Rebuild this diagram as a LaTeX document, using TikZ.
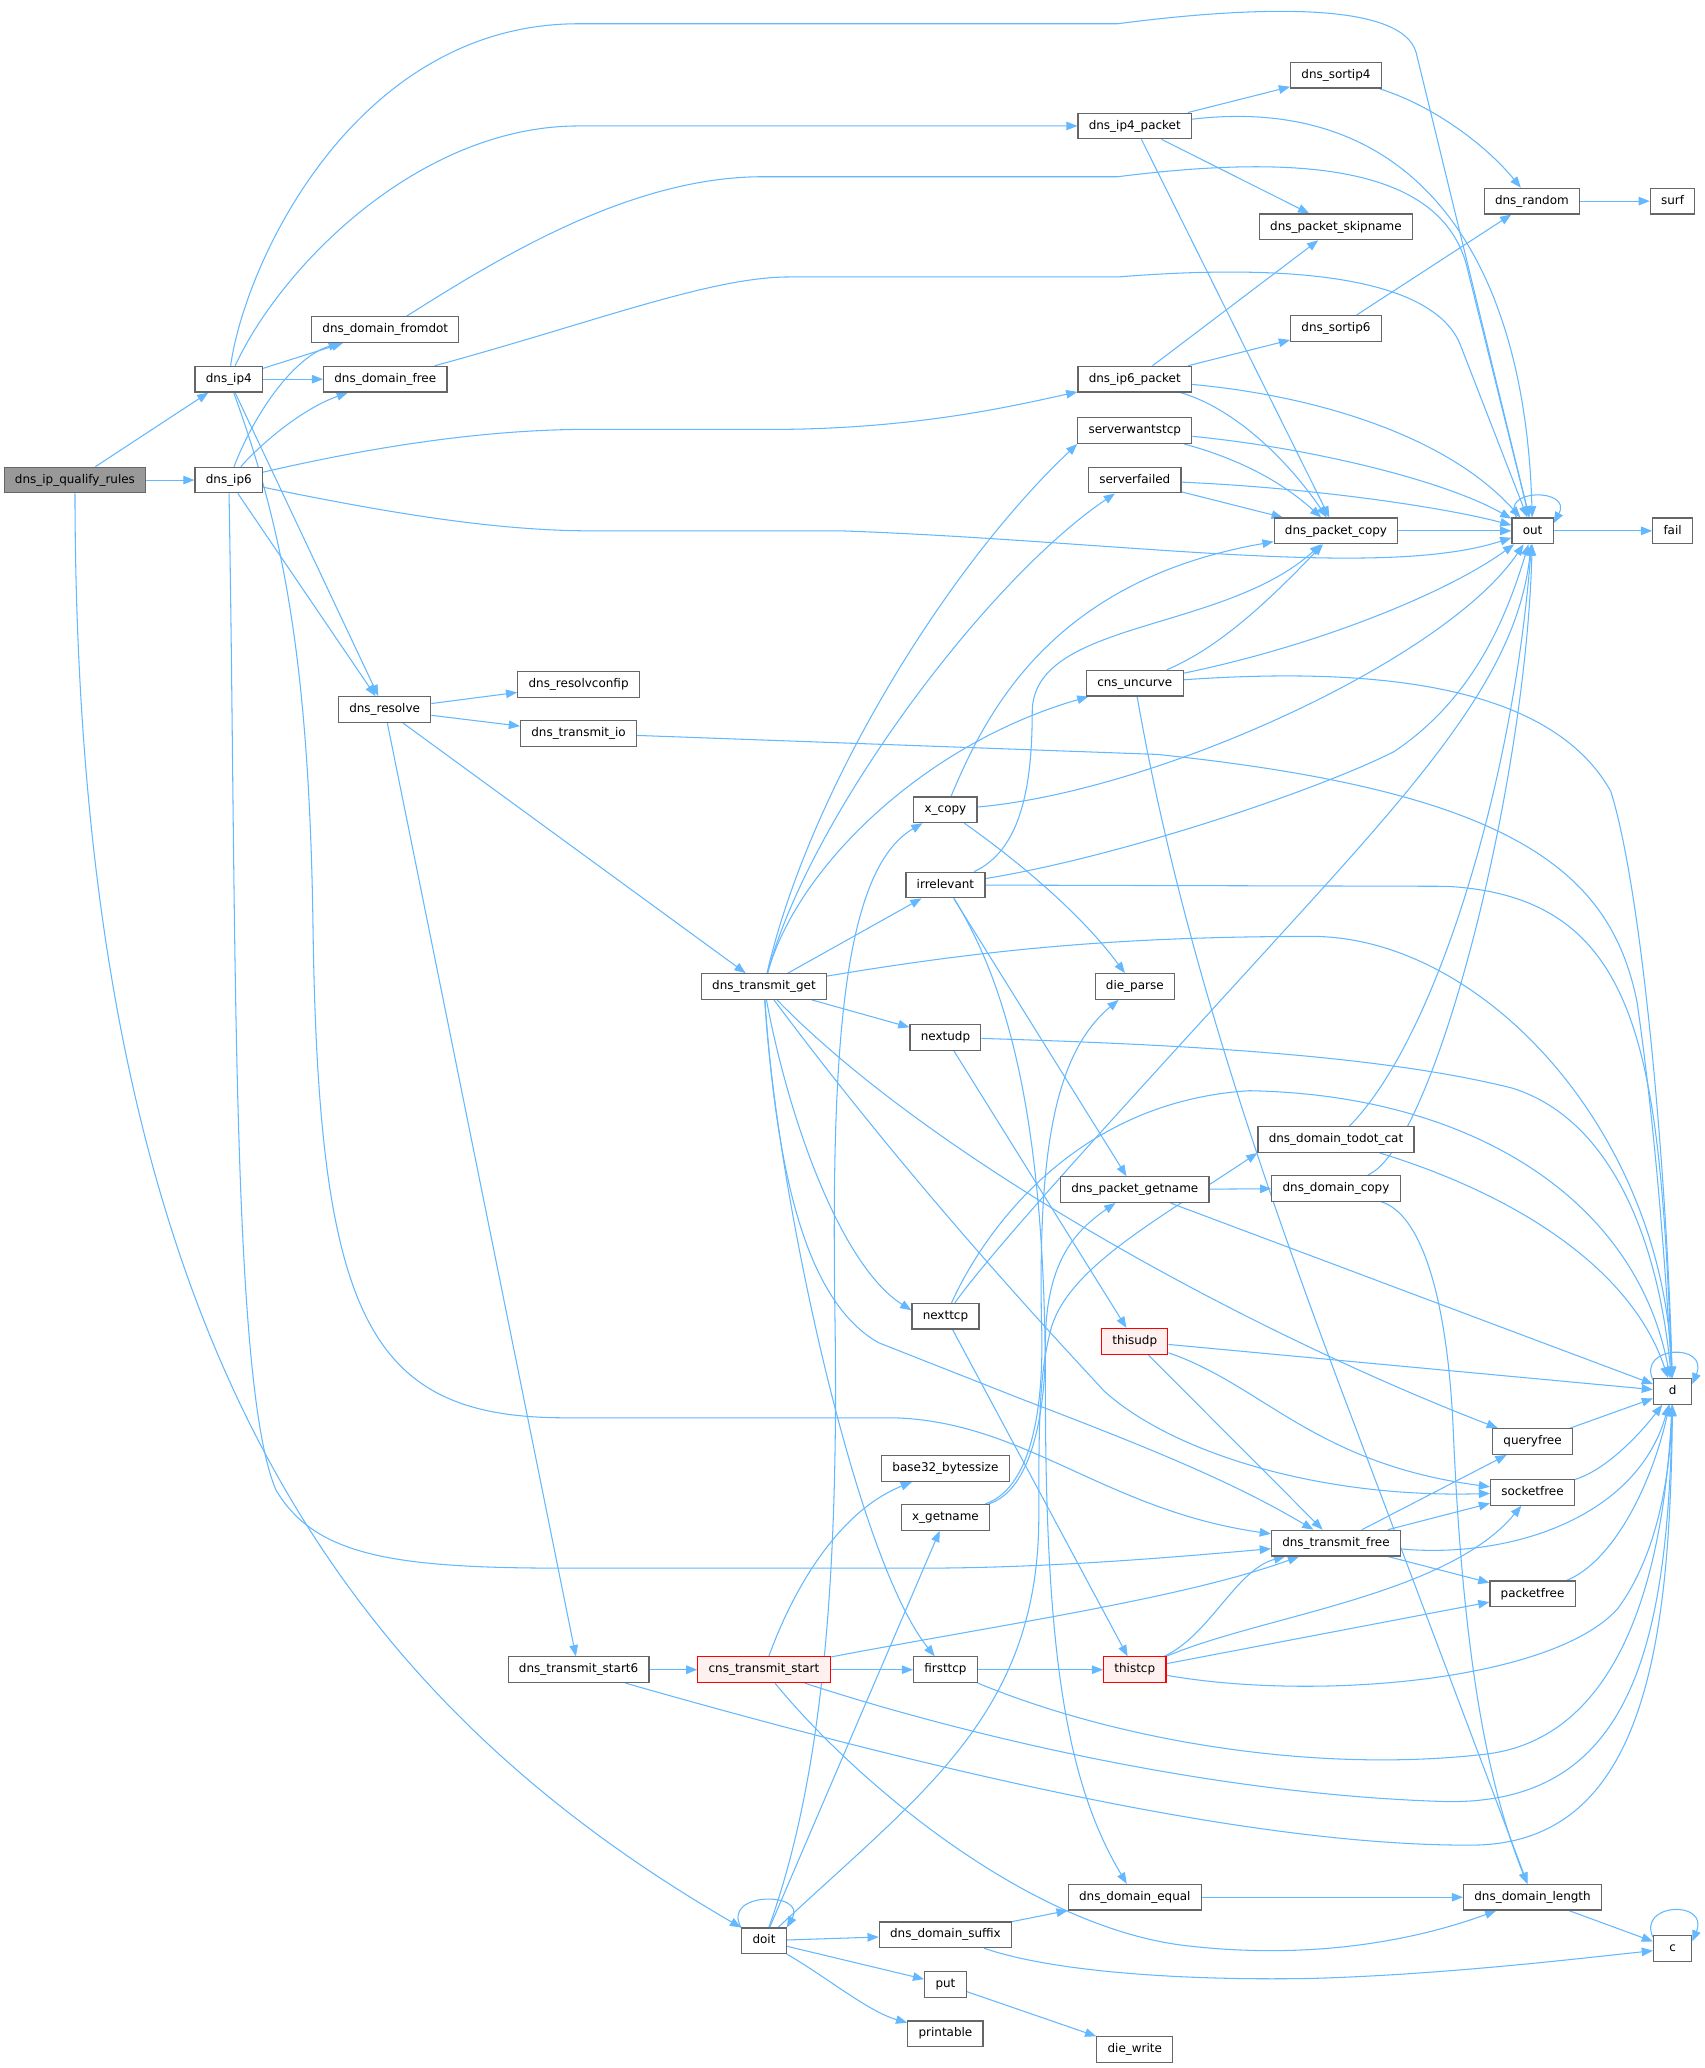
\documentclass[tikz,border=0pt]{standalone}
\usepackage{fontspec}
\setmainfont{DejaVu Sans}
\usetikzlibrary{arrows.meta,backgrounds}
\definecolor{callblue}{HTML}{63B8FF}
\definecolor{boxgray}{HTML}{666666}
\definecolor{rootgray}{HTML}{999999}
\definecolor{hotpink}{HTML}{FFF0F0}
\definecolor{hotred}{HTML}{FF0000}
\tikzset{
	every node/.style = {draw=boxgray, line width=0.9pt, rectangle, fill=white, inner xsep=8.2pt, inner ysep=0pt, minimum height=19.5pt, minimum width=29pt, text height=6.9pt, text depth=2.1pt, font=\fontsize{9.1}{11}\selectfont},
	call/.style = {draw=callblue, line width=0.8pt, -{Triangle[length=8.5pt,width=6.5pt]}}
}
\begin{document}
\begin{tikzpicture}[x=1pt,y=-1.003pt,root/.style={fill=rootgray},hot/.style={draw=hotred,fill=hotpink}]
	\useasboundingbox (0,0) rectangle (1296,1568);
	\node[root] (qual) at (57,364) {dns\_ip\_qualify\_rules};
	\node (ip4) at (174,287.5) {dns\_ip4};
	\node (ip6) at (174,364) {dns\_ip6};
	\node (fromdot) at (293,250) {dns\_domain\_fromdot};
	\node (dfree) at (293,287.5) {dns\_domain\_free};
	\node (resolve) at (292.5,538) {dns\_resolve};
	\node (confip) at (440,519) {dns\_resolvconfip};
	\node (tio) at (440,556) {dns\_transmit\_io};
	\node (tget) at (581,748) {dns\_transmit\_get};
	\node (tstart6) at (440,1266) {dns\_transmit\_start6};
	\node[hot] (cstart) at (581,1266) {cns\_transmit\_start};
	\node (doit) at (581,1471.5) {doit};
	\node (xcopy) at (719,614) {x\_copy};
	\node (irrel) at (719,671) {irrelevant};
	\node (nextudp) at (719,786.5) {nextudp};
	\node (nexttcp) at (719,998) {nexttcp};
	\node (b32) at (719,1113.5) {base32\_bytessize};
	\node (xname) at (719,1150.5) {x\_getname};
	\node (firsttcp) at (719,1266) {firsttcp};
	\node (suffix) at (719,1467) {dns\_domain\_suffix};
	\node (put) at (719,1504.5) {put};
	\node (printable) at (719,1542) {printable};
	\node (ip4pkt) at (863,95.5) {dns\_ip4\_packet};
	\node (ip6pkt) at (863,287.5) {dns\_ip6\_packet};
	\node (swtcp) at (863,326.5) {serverwantstcp};
	\node (sfailed) at (863,364) {serverfailed};
	\node (uncurve) at (863,518) {cns\_uncurve};
	\node (dparse) at (863,748) {die\_parse};
	\node (getname) at (863,902) {dns\_packet\_getname};
	\node[hot] (thisudp) at (863,1017) {thisudp};
	\node[hot] (thistcp) at (863,1266) {thistcp};
	\node (dequal) at (863,1438.5) {dns\_domain\_equal};
	\node (dwrite) at (863,1554) {die\_write};
	\node (sort4) at (1016,57) {dns\_sortip4};
	\node (skip) at (1016,172) {dns\_packet\_skipname};
	\node (sort6) at (1016,249) {dns\_sortip6};
	\node (pcopy) at (1016,402.5) {dns\_packet\_copy};
	\node (todot) at (1016,864) {dns\_domain\_todot\_cat};
	\node (dcopy) at (1016,901) {dns\_domain\_copy};
	\node (tfree) at (1016,1170) {dns\_transmit\_free};
	\node (random) at (1165,152.5) {dns\_random};
	\node (out) at (1165.5,402.5) {out};
	\node (qfree) at (1165.5,1093) {queryfree};
	\node (sfree) at (1165.5,1131.5) {socketfree};
	\node (pfree) at (1165.5,1208.5) {packetfree};
	\node (dlen) at (1165.5,1438.5) {dns\_domain\_length};
	\node (surf) at (1272,152.5) {surf};
	\node (fail) at (1272,402.5) {fail};
	\node (d) at (1272,1055) {d};
	\node (c) at (1272,1477.5) {c};
	\begin{scope}[on background layer]
	\fill[white] (0,0) rectangle (1296,1568);
	\draw[call] (qual) -- (ip4);
	\draw[call] (qual) -- (ip6);
	\draw[call] (qual) .. controls (58,1000) and (250,1280) .. (doit);
	\draw[call] (ip4) .. controls (186,200) and (270,18) .. (440,18) -- (850,18) .. controls (950,5) and (1066,0) .. (1077,40) -- (out);
	\draw[call] (ip4) .. controls (215,200) and (320,95.5) .. (440,95.5) -- (ip4pkt);
	\draw[call] (ip4) -- (fromdot);
	\draw[call] (ip4) -- (dfree);
	\draw[call] (ip4) -- (resolve);
	\draw[call] (ip4) .. controls (215,400) and (235,500) .. (238,700) .. controls (242,1000) and (280,1075) .. (430,1075) -- (680,1075) .. controls (780,1078) and (840,1145) .. (tfree);
	\draw[call] (ip6) .. controls (195,310) and (225,270) .. (fromdot);
	\draw[call] (ip6) .. controls (200,335) and (230,310) .. (dfree);
	\draw[call] (ip6) .. controls (300,335) and (380,325.5) .. (450,325.5) -- (600,325.5) .. controls (700,324) and (770,308) .. (ip6pkt);
	\draw[call] (ip6) .. controls (300,390) and (380,402.5) .. (450,402.5) -- (640,402.5) .. controls (850,410) and (1050,440) .. (out);
	\draw[call] (ip6) -- (resolve);
	\draw[call] (ip6) .. controls (180,700) and (175,1050) .. (210,1130) .. controls (240,1180) and (300,1189) .. (430,1189) -- (700,1189) .. controls (800,1189) and (900,1180) .. (tfree);
	\draw[call] (fromdot) .. controls (380,195) and (480,134) .. (580,134) -- (850,134) .. controls (1000,115) and (1095,130) .. (1115,200) -- (out);
	\draw[call] (dfree) .. controls (450,245) and (540,210) .. (600,210) -- (850,210) .. controls (1000,198) and (1090,215) .. (1110,260) -- (out);
	\draw[call] (resolve) -- (confip);
	\draw[call] (resolve) -- (tio);
	\draw[call] (resolve) -- (tget);
	\draw[call] (resolve) -- (tstart6);
	\draw[call] (tio) -- (880,572) .. controls (1150,600) and (1225,660) .. (1245,760) .. controls (1258,850) and (1266,950) .. (d);
	\draw[call] (tget) .. controls (615,600) and (720,430) .. (swtcp.south west);
	\draw[call] (tget) .. controls (615,620) and (750,440) .. (sfailed);
	\draw[call] (tget) .. controls (605,660) and (700,565) .. (uncurve);
	\draw[call] (tget) -- (irrel);
	\draw[call] (tget) -- (nextudp);
	\draw[call] (tget) .. controls (750,720) and (850,710) .. (1000,710) .. controls (1130,712) and (1265,860) .. (d);
	\draw[call] (tget) .. controls (710,880) and (950,1010) .. (qfree);
	\draw[call] (tget) .. controls (680,880) and (770,980) .. (840,1055) .. controls (890,1100) and (1000,1136) .. (sfree);
	\draw[call] (tget) .. controls (600,850) and (640,960) .. (nexttcp.170);
	\draw[call] (tget) .. controls (590,880) and (610,985) .. (668,1018) -- (780,1062) .. controls (880,1100) and (940,1125) .. (tfree);
	\draw[call] (tget) .. controls (590,900) and (650,1180) .. (firsttcp);
	\draw[call] (xcopy) .. controls (750,540) and (800,440) .. (pcopy);
	\draw[call] (xcopy) .. controls (880,600) and (1100,500) .. (out);
	\draw[call] (xcopy) .. controls (770,650) and (820,690) .. (dparse);
	\draw[call] (irrel) .. controls (775,645) and (785,600) .. (785,540) .. controls (785,470) and (930,480) .. (pcopy);
	\draw[call] (irrel) .. controls (850,650) and (1000,600) .. (1060,570) .. controls (1120,530) and (1145,470) .. (out);
	\draw[call] (irrel) -- (1100,672) .. controls (1250,680) and (1262,800) .. (d);
	\draw[call] (irrel) -- (getname);
	\draw[call] (irrel) .. controls (775,760) and (795,880) .. (795,1050) .. controls (795,1250) and (810,1350) .. (dequal);
	\draw[call] (nextudp) .. controls (900,792) and (1050,800) .. (1150,825) .. controls (1230,850) and (1262,950) .. (d);
	\draw[call] (nextudp) -- (thisudp);
	\draw[call] (nexttcp) .. controls (760,940) and (900,790) .. (1000,680) .. controls (1100,570) and (1155,500) .. (out);
	\draw[call] (nexttcp) .. controls (750,930) and (820,835) .. (950,827) .. controls (1120,830) and (1245,910) .. (d);
	\draw[call] (nexttcp) -- (thistcp);
	\draw[call] (getname) -- (dcopy);
	\draw[call] (getname) -- (d);
	\draw[call] (todot) .. controls (1090,790) and (1150,600) .. (out);
	\draw[call] (todot) .. controls (1150,905) and (1240,960) .. (d);
	\draw[call] (dcopy) .. controls (1090,870) and (1160,600) .. (out);
	\draw[call] (dcopy) .. controls (1080,920) and (1100,980) .. (1105,1080) .. controls (1112,1250) and (1130,1350) .. (dlen);
	\draw[call] (uncurve) .. controls (930,490) and (970,450) .. (pcopy);
	\draw[call] (uncurve) .. controls (1000,490) and (1100,450) .. (out);
	\draw[call] (uncurve) .. controls (1050,505) and (1180,520) .. (1225,600) .. controls (1250,680) and (1268,900) .. (d);
	\draw[call] (uncurve) .. controls (895,700) and (950,870) .. (1030,1080) -- (dlen);
	\draw[call] (thisudp) -- (d);
	\draw[call] (thisudp) -- (tfree);
	\draw[call] (thisudp) .. controls (960,1050) and (1000,1110) .. (sfree);
	\draw[call] (thistcp) .. controls (920,1240) and (940,1190) .. (tfree);
	\draw[call] (thistcp) .. controls (960,1225) and (1100,1210) .. (sfree);
	\draw[call] (thistcp) -- (pfree);
	\draw[call] (thistcp) .. controls (1000,1290) and (1180,1275) .. (1230,1220) .. controls (1260,1180) and (1270,1120) .. (d);
	\draw[call] (firsttcp) -- (thistcp);
	\draw[call] (firsttcp) .. controls (850,1320) and (1000,1345) .. (1130,1330) .. controls (1230,1318) and (1265,1200) .. (d);
	\draw[call] (cstart) -- (firsttcp);
	\draw[call] (cstart) .. controls (605,1200) and (640,1145) .. (b32);
	\draw[call] (cstart) .. controls (760,1232) and (900,1212) .. (tfree);
	\draw[call] (cstart) .. controls (700,1305) and (900,1360) .. (1100,1366) .. controls (1240,1368) and (1268,1250) .. (d);
	\draw[call] (cstart) .. controls (650,1350) and (780,1460) .. (900,1475) .. controls (1000,1487) and (1080,1470) .. (dlen);
	\draw[call] (tstart6) -- (cstart);
	\draw[call] (tstart6) .. controls (700,1340) and (950,1400) .. (1120,1399) .. controls (1250,1398) and (1270,1250) .. (d);
	\draw[call] (doit.150) .. controls (548,1434) and (614,1434) .. (doit.30);
	\draw[call] (doit) -- (suffix);
	\draw[call] (doit) -- (put);
	\draw[call] (doit) .. controls (630,1500) and (660,1525) .. (printable);
	\draw[call] (doit) .. controls (625,1350) and (638,1200) .. (635,1000) .. controls (632,800) and (640,660) .. (xcopy);
	\draw[call] (doit) -- (xname);
	\draw[call] (doit) .. controls (700,1360) and (790,1300) .. (790,1150) .. controls (790,1080) and (790,1040) .. (800,1005) .. controls (815,960) and (880,925) .. (todot.south west);
	\draw[call] (xname) .. controls (780,1130) and (795,1080) .. (792,1000) .. controls (790,880) and (800,800) .. (dparse);
	\draw[call] (xname) .. controls (785,1130) and (795,1070) .. (795,1020) .. controls (795,960) and (815,935) .. (getname);
	\draw[call] (suffix) -- (dequal);
	\draw[call] (suffix) .. controls (800,1495) and (900,1502) .. (1000,1500) .. controls (1100,1497) and (1200,1485) .. (c);
	\draw[call] (put) -- (dwrite);
	\draw[call] (dequal) -- (dlen);
	\draw[call] (dlen) -- (c);
	\draw[call] (c.150) .. controls (1245,1442.5) and (1300,1440.5) .. (c.20);
	\draw[call] (d.150) .. controls (1245,1020) and (1300,1018) .. (d.20);
	\draw[call] (ip4pkt) -- (sort4);
	\draw[call] (ip4pkt) .. controls (1080,70) and (1160,200) .. (out);
	\draw[call] (ip4pkt) -- (skip);
	\draw[call] (ip4pkt) -- (pcopy);
	\draw[call] (sort4) .. controls (1090,80) and (1130,110) .. (random);
	\draw[call] (sort6) -- (random);
	\draw[call] (random) -- (surf);
	\draw[call] (ip6pkt) -- (skip);
	\draw[call] (ip6pkt) -- (sort6);
	\draw[call] (ip6pkt) .. controls (1000,300) and (1100,330) .. (out);
	\draw[call] (ip6pkt) .. controls (940,310) and (980,350) .. (pcopy);
	\draw[call] (swtcp) .. controls (1000,340) and (1100,365) .. (out);
	\draw[call] (swtcp) .. controls (950,350) and (980,370) .. (pcopy);
	\draw[call] (sfailed) .. controls (1000,370) and (1100,385) .. (out);
	\draw[call] (sfailed) -- (pcopy);
	\draw[call] (pcopy) -- (out);
	\draw[call] (out) -- (fail);
	\draw[call] (out.140) .. controls (1140,370) and (1196,370) .. (out.20);
	\draw[call] (tfree) -- (qfree);
	\draw[call] (tfree) -- (sfree);
	\draw[call] (tfree) -- (pfree);
	\draw[call] (tfree) .. controls (1150,1182) and (1245,1150) .. (d);
	\draw[call] (qfree) -- (d);
	\draw[call] (sfree) .. controls (1220,1115) and (1245,1090) .. (d);
	\draw[call] (pfree) .. controls (1225,1185) and (1255,1130) .. (d);
	\end{scope}
\end{tikzpicture}
\end{document}
